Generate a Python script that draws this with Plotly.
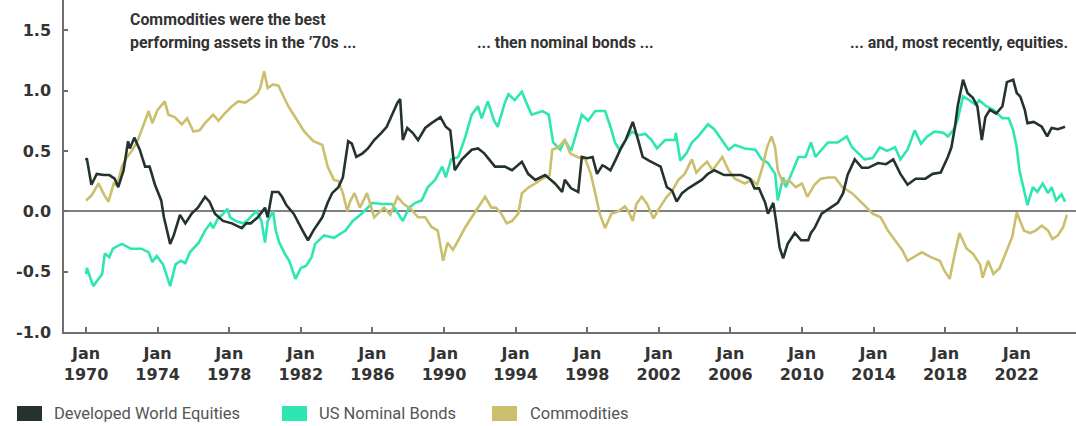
import pandas as pd
import plotly.graph_objects as go

# Rolling correlation readings (decimal year, value) for each asset class
eq_t = [1970.0, 1970.04, 1970.3, 1970.6, 1971.0, 1971.3, 1971.6, 1971.8, 1972.1, 1972.35,
        1972.45, 1972.7, 1973.0, 1973.3, 1973.55, 1973.85, 1974.2, 1974.35, 1974.7, 1974.9,
        1975.25, 1975.55, 1975.9, 1976.25, 1976.65, 1976.9, 1977.2, 1977.65, 1978.15, 1978.7,
        1978.95, 1979.2, 1979.6, 1980.0, 1980.15, 1980.4, 1980.75, 1980.95, 1981.2, 1981.6,
        1982.1, 1982.4, 1982.7, 1983.2, 1983.5, 1983.75, 1984.1, 1984.35, 1984.65, 1984.85,
        1985.1, 1985.45, 1985.75, 1986.1, 1986.5, 1986.8, 1987.1, 1987.4, 1987.55, 1987.7,
        1987.95, 1988.25, 1988.55, 1988.95, 1989.3, 1989.8, 1990.1, 1990.35, 1990.6, 1991.0,
        1991.55, 1991.9, 1992.25, 1992.85, 1993.4, 1993.8, 1994.35, 1994.7, 1995.1, 1995.65,
        1996.2, 1996.6, 1996.75, 1997.1, 1997.5, 1997.7, 1998.0, 1998.3, 1998.55, 1998.85,
        1999.0, 1999.3, 1999.6, 1999.85, 2000.15, 2000.55, 2000.85, 2001.1, 2001.45, 2001.75,
        2002.1, 2002.45, 2002.75, 2003.0, 2003.3, 2003.65, 2004.0, 2004.4, 2004.75, 2005.1,
        2005.65, 2006.0, 2006.6, 2007.1, 2007.35, 2007.6, 2007.95, 2008.1, 2008.4, 2008.55,
        2008.75, 2008.95, 2009.2, 2009.6, 2009.95, 2010.35, 2010.5, 2010.7, 2011.1, 2011.6,
        2012.0, 2012.3, 2012.55, 2012.95, 2013.35, 2013.7, 2014.25, 2014.7, 2015.1, 2015.5,
        2015.9, 2016.35, 2016.9, 2017.3, 2017.75, 2018.15, 2018.35, 2018.55, 2018.7, 2019.0,
        2019.25, 2019.55, 2019.8, 2020.05, 2020.25, 2020.5, 2020.85, 2021.2, 2021.45, 2021.8,
        2022.0, 2022.2, 2022.45, 2022.6, 2022.95, 2023.4, 2023.7, 2023.95, 2024.3, 2024.7]
eq_v = [0.42, 0.44, 0.22, 0.31, 0.30, 0.30, 0.27, 0.20, 0.34, 0.58,
        0.52, 0.61, 0.51, 0.37, 0.37, 0.22, 0.09, -0.05, -0.27, -0.20,
        -0.03, -0.10, -0.02, 0.03, 0.12, 0.08, -0.02, -0.08, -0.10, -0.14,
        -0.10, -0.10, -0.05, 0.03, -0.05, 0.16, 0.16, 0.12, 0.05, -0.02,
        -0.16, -0.24, -0.16, -0.05, 0.07, 0.15, 0.20, 0.28, 0.58, 0.56,
        0.45, 0.48, 0.52, 0.59, 0.65, 0.70, 0.80, 0.90, 0.93, 0.59,
        0.69, 0.65, 0.59, 0.69, 0.73, 0.78, 0.70, 0.67, 0.34, 0.43,
        0.51, 0.52, 0.48, 0.37, 0.37, 0.34, 0.41, 0.31, 0.26, 0.30,
        0.23, 0.16, 0.26, 0.19, 0.16, 0.45, 0.44, 0.45, 0.31, 0.38,
        0.37, 0.34, 0.43, 0.51, 0.59, 0.74, 0.59, 0.45, 0.42, 0.40,
        0.37, 0.20, 0.17, 0.08, 0.15, 0.19, 0.22, 0.26, 0.31, 0.34,
        0.30, 0.30, 0.30, 0.27, 0.19, 0.19, 0.07, -0.02, 0.07, -0.08,
        -0.30, -0.39, -0.27, -0.18, -0.24, -0.24, -0.18, -0.14, -0.02, 0.03,
        0.07, 0.15, 0.30, 0.43, 0.36, 0.36, 0.40, 0.39, 0.43, 0.31,
        0.22, 0.27, 0.27, 0.31, 0.32, 0.45, 0.53, 0.70, 0.87, 1.09,
        0.98, 0.94, 0.87, 0.59, 0.78, 0.84, 0.81, 0.87, 1.07, 1.09,
        0.98, 0.95, 0.84, 0.73, 0.74, 0.70, 0.62, 0.69, 0.68, 0.70]

bond_t = [1970.0, 1970.05, 1970.4, 1970.65, 1970.9, 1971.05, 1971.3, 1971.5, 1972.0, 1972.5,
          1973.1, 1973.5, 1973.7, 1973.95, 1974.3, 1974.7, 1975.0, 1975.3, 1975.55, 1975.8,
          1976.3, 1976.65, 1976.95, 1977.1, 1977.4, 1977.6, 1977.9, 1978.05, 1978.35, 1978.75,
          1979.0, 1979.3, 1979.55, 1979.8, 1980.0, 1980.15, 1980.45, 1980.6, 1980.8, 1981.1,
          1981.35, 1981.7, 1982.0, 1982.3, 1982.6, 1982.8, 1983.3, 1983.85, 1984.5, 1984.9,
          1985.4, 1986.0, 1986.5, 1987.1, 1987.45, 1987.7, 1988.05, 1988.4, 1988.75, 1989.1,
          1989.5, 1989.9, 1990.1, 1990.4, 1990.8, 1991.2, 1991.55, 1991.9, 1992.1, 1992.45,
          1992.8, 1993.0, 1993.4, 1993.6, 1993.95, 1994.35, 1994.6, 1994.9, 1995.5, 1995.85,
          1996.1, 1996.5, 1996.75, 1997.1, 1997.4, 1997.7, 1998.05, 1998.45, 1999.0, 1999.3,
          1999.55, 1999.8, 2000.15, 2000.5, 2000.85, 2001.25, 2001.6, 2001.9, 2002.35, 2002.9,
          2002.95, 2003.2, 2003.55, 2003.85, 2004.2, 2004.75, 2005.1, 2005.5, 2005.9, 2006.25,
          2006.8, 2007.4, 2007.75, 2008.1, 2008.5, 2008.65, 2008.95, 2009.1, 2009.4, 2009.8,
          2010.2, 2010.5, 2010.75, 2011.45, 2012.0, 2012.5, 2012.8, 2013.2, 2013.5, 2013.95,
          2014.35, 2014.75, 2015.2, 2015.5, 2015.9, 2016.3, 2016.65, 2017.0, 2017.4, 2017.9,
          2018.15, 2018.45, 2018.7, 2019.0, 2019.35, 2019.7, 2019.9, 2020.3, 2020.7, 2021.2,
          2021.55, 2021.8, 2022.0, 2022.15, 2022.35, 2022.6, 2022.9, 2023.15, 2023.45, 2023.75,
          2023.95, 2024.2, 2024.5, 2024.7]
bond_v = [-0.52, -0.47, -0.62, -0.57, -0.52, -0.35, -0.38, -0.31, -0.27, -0.31,
          -0.31, -0.34, -0.42, -0.37, -0.44, -0.62, -0.44, -0.41, -0.43, -0.34,
          -0.26, -0.16, -0.10, -0.14, -0.05, -0.03, 0.02, -0.05, -0.08, -0.10,
          -0.08, -0.03, 0.00, -0.08, -0.26, -0.08, 0.00, -0.16, -0.26, -0.35,
          -0.41, -0.56, -0.47, -0.45, -0.38, -0.27, -0.20, -0.22, -0.16, -0.08,
          -0.02, 0.07, 0.06, 0.06, -0.02, -0.08, 0.03, 0.07, 0.09, 0.20,
          0.26, 0.37, 0.28, 0.43, 0.45, 0.62, 0.80, 0.87, 0.77, 0.91,
          0.75, 0.70, 0.90, 0.97, 0.92, 0.99, 0.90, 0.80, 0.83, 0.80,
          0.57, 0.51, 0.59, 0.50, 0.65, 0.80, 0.75, 0.83, 0.83, 0.70,
          0.57, 0.51, 0.59, 0.66, 0.63, 0.64, 0.59, 0.52, 0.59, 0.59,
          0.65, 0.42, 0.48, 0.57, 0.62, 0.72, 0.68, 0.60, 0.51, 0.55,
          0.52, 0.51, 0.43, 0.40, 0.31, 0.09, 0.28, 0.20, 0.31, 0.45,
          0.45, 0.57, 0.45, 0.57, 0.57, 0.62, 0.53, 0.47, 0.43, 0.44,
          0.53, 0.50, 0.53, 0.43, 0.51, 0.67, 0.56, 0.62, 0.66, 0.65,
          0.62, 0.67, 0.76, 0.95, 0.92, 0.88, 0.92, 0.87, 0.84, 0.77,
          0.77, 0.67, 0.53, 0.34, 0.20, 0.05, 0.20, 0.16, 0.23, 0.15,
          0.20, 0.09, 0.14, 0.08]

com_t = [1970.0, 1970.3, 1970.7, 1971.0, 1971.25, 1971.55, 1971.75, 1972.0, 1972.3, 1972.6,
         1972.9, 1973.1, 1973.5, 1973.7, 1974.0, 1974.4, 1974.6, 1974.95, 1975.35, 1975.65,
         1976.0, 1976.35, 1976.65, 1977.1, 1977.4, 1977.75, 1978.15, 1978.5, 1978.9, 1979.3,
         1979.6, 1979.75, 1979.95, 1980.15, 1980.45, 1980.75, 1981.05, 1981.3, 1981.6, 1981.9,
         1982.2, 1982.7, 1983.2, 1983.5, 1983.85, 1984.1, 1984.35, 1984.6, 1984.75, 1985.0,
         1985.3, 1985.7, 1985.95, 1986.1, 1986.65, 1987.0, 1987.4, 1987.75, 1988.15, 1988.55,
         1988.95, 1989.3, 1989.65, 1989.95, 1990.2, 1990.5, 1990.8, 1991.2, 1991.55, 1991.9,
         1992.3, 1992.65, 1992.9, 1993.2, 1993.5, 1993.8, 1994.15, 1994.35, 1994.75, 1995.1,
         1995.5, 1995.9, 1996.05, 1996.4, 1996.75, 1997.05, 1997.45, 1997.9, 1998.2, 1998.45,
         1998.7, 1999.0, 1999.35, 1999.75, 2000.1, 2000.3, 2000.55, 2000.75, 2001.05, 2001.35,
         2001.7, 2002.05, 2002.45, 2002.75, 2003.1, 2003.45, 2003.85, 2004.1, 2004.4, 2004.7,
         2005.0, 2005.55, 2005.9, 2006.25, 2006.8, 2007.2, 2007.5, 2007.8, 2008.05, 2008.3,
         2008.5, 2008.65, 2008.95, 2009.25, 2009.65, 2010.0, 2010.3, 2010.7, 2011.05, 2011.45,
         2011.85, 2012.25, 2012.8, 2013.35, 2013.95, 2014.4, 2014.8, 2015.2, 2015.6, 2015.9,
         2016.25, 2016.7, 2017.2, 2017.7, 2017.95, 2018.25, 2018.5, 2018.8, 2019.2, 2019.55,
         2019.95, 2020.1, 2020.4, 2020.7, 2021.05, 2021.45, 2021.75, 2022.0, 2022.2, 2022.4,
         2022.75, 2023.05, 2023.4, 2023.75, 2024.0, 2024.3, 2024.6, 2024.8]
com_v = [0.09, 0.13, 0.23, 0.14, 0.08, 0.23, 0.22, 0.37, 0.45, 0.51,
         0.59, 0.67, 0.83, 0.73, 0.84, 0.91, 0.80, 0.78, 0.72, 0.77,
         0.66, 0.67, 0.73, 0.80, 0.75, 0.81, 0.87, 0.91, 0.90, 0.94,
         0.98, 1.03, 1.16, 1.02, 1.05, 1.04, 0.94, 0.87, 0.80, 0.73,
         0.66, 0.58, 0.55, 0.37, 0.26, 0.25, 0.15, 0.00, 0.08, 0.15,
         0.03, 0.15, 0.03, -0.05, 0.03, -0.03, 0.12, 0.06, 0.02, -0.05,
         -0.05, -0.13, -0.16, -0.41, -0.26, -0.32, -0.24, -0.13, -0.05, 0.03,
         0.12, 0.03, 0.03, -0.02, -0.10, -0.08, -0.02, 0.15, 0.20, 0.23,
         0.27, 0.30, 0.51, 0.53, 0.59, 0.48, 0.45, 0.43, 0.31, 0.15,
         -0.02, -0.14, -0.02, 0.00, 0.04, 0.00, -0.08, 0.06, 0.12, 0.06,
         -0.06, 0.03, 0.12, 0.17, 0.26, 0.31, 0.43, 0.32, 0.37, 0.41,
         0.34, 0.45, 0.34, 0.27, 0.23, 0.26, 0.22, 0.37, 0.53, 0.62,
         0.53, 0.34, 0.23, 0.26, 0.20, 0.23, 0.12, 0.22, 0.27, 0.28,
         0.28, 0.20, 0.15, 0.07, -0.02, -0.05, -0.16, -0.24, -0.32, -0.41,
         -0.38, -0.34, -0.38, -0.41, -0.49, -0.56, -0.38, -0.18, -0.31, -0.35,
         -0.44, -0.55, -0.41, -0.52, -0.47, -0.32, -0.21, -0.01, -0.08, -0.16,
         -0.18, -0.16, -0.12, -0.16, -0.23, -0.20, -0.13, -0.03]

series_names = ["Developed World Equities", "US Nominal Bonds", "Commodities"]
series_colors = ["#24342d", "#2ee6b2", "#cbbf6e"]
tick_years = list(range(1970, 2023, 4))
y_ticks = [-1.0, -0.5, 0.0, 0.5, 1.0, 1.5]


def to_dates(years):
    out = []
    for y in years:
        base = pd.Timestamp(int(y), 1, 1)
        out.append(base + pd.Timedelta(days=(y - int(y)) * 365.25))
    return out


# pixel helpers for paper-anchored text and legend keys
W, H = 1076, 426
L, B = 64, 94
PW, PH = W - L, H - B


def px(x):
    return (x - L) / PW


def py(y):
    return (PH - y) / PH


fig = go.Figure()
data = {
    "Developed World Equities": (eq_t, eq_v),
    "US Nominal Bonds": (bond_t, bond_v),
    "Commodities": (com_t, com_v),
}
# bonds and commodities underneath, equities on top
for name in ["US Nominal Bonds", "Commodities", "Developed World Equities"]:
    t, v = data[name]
    color = series_colors[series_names.index(name)]
    fig.add_trace(go.Scatter(x=to_dates(t), y=v, mode="lines", name=name,
                             line=dict(color=color, width=2.6), showlegend=False))

tick_font = dict(family="DejaVu Sans", size=16, color="#333333", weight="bold")

fig.update_xaxes(
    type="date",
    range=to_dates([1968.77, 2025.31]),
    tickvals=[pd.Timestamp(y, 1, 1) for y in tick_years],
    ticktext=[f"Jan<br>{y}" for y in tick_years],
    ticks="inside", ticklen=5, tickwidth=1.5, tickcolor="#6e6e6e",
    showline=True, linecolor="#6e6e6e", linewidth=2,
    showgrid=False, zeroline=False, tickfont=tick_font,
    ticklabelstandoff=6,
)
fig.update_yaxes(
    range=[-1.0, 1.75],
    tickvals=y_ticks,
    ticktext=[f"{v:.1f}" for v in y_ticks],
    ticks="inside", ticklen=4, tickwidth=1.5, tickcolor="#6e6e6e",
    showline=True, linecolor="#6e6e6e", linewidth=1.5,
    showgrid=False, zeroline=True, zerolinecolor="#808080", zerolinewidth=1.6,
    tickfont=tick_font, ticklabelstandoff=8,
)

note_font = dict(family="Roboto", size=15.9, color="#333333", weight="bold")
notes = [
    ("Commodities were the best", 128, 20),
    ("performing assets in the \u201970s ...", 128, 43),
    ("... then nominal bonds ...", 475, 43),
    ("... and, most recently, equities.", 848, 43),
]
for text, x, y in notes:
    fig.add_annotation(text=text, x=px(x), y=py(y), xref="paper", yref="paper",
                       xanchor="left", yanchor="middle", showarrow=False, font=note_font)

# legend keys: coloured blocks with labels underneath the axis
legend_x = [(17, 52), (282, 317), (492, 528)]
for (bx, tx), name, color in zip(legend_x, series_names, series_colors):
    fig.add_shape(type="rect", xref="paper", yref="paper",
                  x0=px(bx), x1=px(bx + 25), y0=py(421), y1=py(406),
                  fillcolor=color, line=dict(width=0))
    fig.add_annotation(text=name, x=px(tx), y=py(413.5), xref="paper", yref="paper",
                       xanchor="left", yanchor="middle", showarrow=False,
                       font=dict(family="Roboto", size=16.5, color="#555555"))

fig.update_layout(
    width=W, height=H,
    margin=dict(l=L, r=0, t=0, b=B),
    plot_bgcolor="white", paper_bgcolor="white",
    showlegend=False,
)

fig.write_html("out.html")
